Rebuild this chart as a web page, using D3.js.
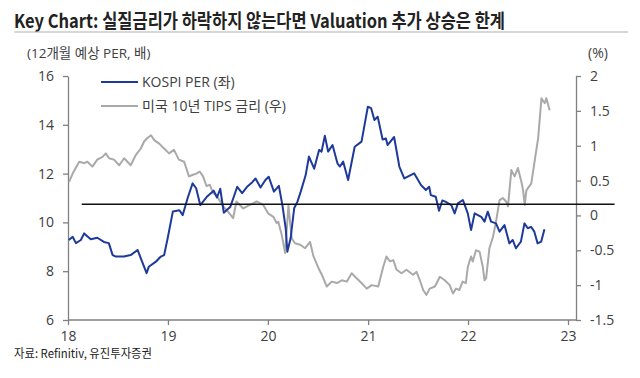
<!DOCTYPE html>
<html><head><meta charset="utf-8">
<script src="https://cdn.jsdelivr.net/npm/d3@7"></script>
<style>
html,body{margin:0;padding:0;background:#fff;}
svg{display:block;font-family:"Open Sans","Noto Sans CJK KR",sans-serif;}
</style></head>
<body><svg id="c" width="640" height="378"></svg>
<script>
// ---- data ----
const titleText = "Key Chart: 실질금리가 하락하지 않는다면 Valuation 추가 상승은 한계";
const leftUnit = "(12개월 예상 PER, 배)";
const rightUnit = "(%)";
const sourceText = "자료: Refinitiv, 유진투자증권";
const seriesNames = ["KOSPI PER (좌)", "미국 10년 TIPS 금리 (우)"];
const yearTicks = ["2018-01-01","2019-01-01","2020-01-01","2021-01-01","2022-01-01","2023-01-01"];
const leftTicks = [6,8,10,12,14,16];
const rightTicks = [-1.5,-1,-0.5,0,0.5,1,1.5,2];
const avgPER = 10.74;
const avgSpan = ["2018-02-20","2023-06-20"];

const kospiPER = [
["2018-01-04",9.28],["2018-01-18",9.41],["2018-01-30",9.15],["2018-02-17",9.28],["2018-03-01",9.55],
["2018-03-25",9.31],["2018-04-18",9.37],["2018-05-12",9.2],["2018-05-30",9.15],["2018-06-13",8.66],
["2018-06-25",8.6],["2018-07-24",8.6],["2018-08-18",8.66],["2018-09-12",8.87],["2018-09-24",8.53],
["2018-10-15",7.92],["2018-10-23",8.18],["2018-11-18",8.39],["2018-12-06",8.6],["2018-12-18",8.66],
["2018-12-31",9.35],["2019-01-19",10.45],["2019-02-12",10.5],["2019-02-24",10.3],["2019-03-14",11.0],
["2019-04-01",11.6],["2019-04-14",11.4],["2019-04-29",10.71],["2019-05-23",11.05],["2019-06-17",11.3],
["2019-06-29",11.02],["2019-07-11",11.38],["2019-07-24",10.4],["2019-08-17",10.64],["2019-09-11",11.46],
["2019-09-29",11.2],["2019-10-17",11.46],["2019-11-05",11.65],["2019-11-17",11.8],["2019-12-05",11.43],
["2019-12-23",11.74],["2020-01-04",11.87],["2020-01-23",11.26],["2020-02-10",11.5],["2020-02-23",10.71],
["2020-03-06",9.76],["2020-03-12",8.8],["2020-03-24",9.35],["2020-04-06",10.58],["2020-04-18",10.85],
["2020-04-30",11.26],["2020-05-18",11.94],["2020-05-30",12.7],["2020-06-18",12.2],["2020-07-06",12.97],
["2020-07-15",12.9],["2020-07-27",13.55],["2020-08-08",12.9],["2020-08-24",13.17],["2020-09-11",12.42],
["2020-09-20",12.29],["2020-10-02",12.49],["2020-10-20",11.74],["2020-11-13",13.1],["2020-12-08",13.31],
["2020-12-20",14.06],["2020-12-31",14.74],["2021-01-12",14.68],["2021-01-24",14.2],["2021-02-05",14.33],
["2021-02-23",13.4],["2021-03-07",13.44],["2021-03-13",13.17],["2021-04-06",13.5],["2021-04-25",12.29],
["2021-05-13",11.8],["2021-06-18",12.01],["2021-07-13",11.53],["2021-07-31",11.33],["2021-08-12",11.46],
["2021-08-18",11.12],["2021-09-05",11.05],["2021-09-17",10.48],["2021-09-29",10.9],["2021-10-10",10.85],
["2021-11-01",10.71],["2021-11-13",10.37],["2021-11-25",10.78],["2021-12-13",10.92],["2021-12-31",10.37],
["2022-01-12",9.69],["2022-01-25",10.37],["2022-02-18",10.23],["2022-03-02",10.03],["2022-03-14",10.44],
["2022-03-26",10.03],["2022-04-13",9.96],["2022-04-26",9.62],["2022-05-14",9.89],["2022-06-01",9.14],
["2022-06-13",9.28],["2022-06-25",8.94],["2022-07-13",9.21],["2022-07-26",9.96],["2022-08-07",9.76],
["2022-08-19",9.82],["2022-08-31",9.62],["2022-09-12",9.14],["2022-09-25",9.21],["2022-10-07",9.72]
];

const tipsYield = [
["2018-01-05",0.48],["2018-01-18",0.60],["2018-02-11",0.77],["2018-03-01",0.75],["2018-03-13",0.77],
["2018-03-31",0.70],["2018-04-18",0.80],["2018-05-07",0.84],["2018-05-19",0.89],["2018-05-31",0.82],
["2018-06-18",0.80],["2018-07-07",0.72],["2018-07-25",0.82],["2018-08-18",0.72],["2018-09-06",0.87],
["2018-09-24",0.96],["2018-10-06",1.06],["2018-10-18",1.11],["2018-10-31",1.15],["2018-11-12",1.08],
["2018-11-30",1.03],["2018-12-18",0.96],["2019-01-05",0.89],["2019-01-23",0.94],["2019-02-10",0.80],
["2019-03-01",0.77],["2019-03-19",0.56],["2019-03-31",0.58],["2019-04-15",0.60],["2019-04-27",0.63],
["2019-05-09",0.56],["2019-05-22",0.42],["2019-06-03",0.44],["2019-06-15",0.32],["2019-06-27",0.29],
["2019-07-22",0.13],["2019-08-09",0.05],["2019-08-27",-0.04],["2019-09-08",0.20],["2019-10-03",0.10],
["2019-10-27",0.15],["2019-11-21",0.20],["2019-12-15",0.15],["2020-01-02",0.03],["2020-01-21",-0.02],
["2020-02-02",-0.11],["2020-02-08",-0.09],["2020-02-20",-0.27],["2020-03-04",-0.54],["2020-03-16",0.14],
["2020-03-28",-0.33],["2020-04-09",-0.40],["2020-04-28",-0.42],["2020-05-16",-0.47],["2020-06-03",-0.38],
["2020-06-15",-0.58],["2020-07-03",-0.75],["2020-07-16",-0.85],["2020-08-03",-1.02],["2020-08-21",-0.95],
["2020-09-09",-0.97],["2020-09-27",-0.93],["2020-10-15",-0.95],["2020-11-02",-0.83],["2020-11-20",-0.90],
["2020-12-08",-0.97],["2020-12-27",-1.05],["2021-01-14",-1.00],["2021-02-07",-1.02],["2021-02-25",-0.74],
["2021-03-09",-0.59],["2021-03-22",-0.66],["2021-04-03",-0.64],["2021-04-15",-0.78],["2021-05-03",-0.83],
["2021-05-21",-0.78],["2021-06-14",-0.85],["2021-06-27",-0.81],["2021-07-09",-0.93],["2021-07-21",-1.07],
["2021-08-02",-1.14],["2021-08-14",-1.05],["2021-09-02",-1.02],["2021-09-20",-0.88],["2021-10-08",-0.93],
["2021-10-26",-1.00],["2021-11-07",-1.12],["2021-11-18",-1.05],["2021-11-30",-1.07],["2021-12-12",-0.95],
["2021-12-24",-0.97],["2021-12-31",-0.74],["2022-01-12",-0.59],["2022-01-18",-0.66],["2022-01-30",-0.50],
["2022-02-12",-0.52],["2022-02-24",-0.74],["2022-03-02",-0.93],["2022-03-08",-0.90],["2022-03-20",-0.47],
["2022-04-02",-0.31],["2022-04-14",-0.07],["2022-04-26",0.22],["2022-05-08",0.25],["2022-05-20",0.20],
["2022-05-27",0.13],["2022-06-08",0.65],["2022-06-20",0.56],["2022-07-02",0.68],["2022-07-15",0.48],
["2022-07-21",0.36],["2022-07-27",0.15],["2022-08-02",0.36],["2022-08-20",0.46],["2022-09-02",0.80],
["2022-09-14",1.11],["2022-09-26",1.68],["2022-10-08",1.61],["2022-10-14",1.68],["2022-10-26",1.51]
];

// ---- chart ----
const parse = d3.timeParse("%Y-%m-%d");
const svg = d3.select("#c");
const axisColor = "#808080", textColor = "#404040";
const blue = "#1d3a9a", gray = "#a9a9a9";

const x = d3.scaleTime().domain([parse(yearTicks[0]), parse(yearTicks[yearTicks.length-1])]).range([68,568]);
const yL = d3.scaleLinear().domain([6,16]).range([320,76]);
const yR = d3.scaleLinear().domain([-1.5,2]).range([320,76]);

// title
svg.append("text").attr("x",14).attr("y",28)
  .attr("font-family","'Noto Sans CJK KR',sans-serif").attr("font-weight","bold")
  .attr("font-size",19).attr("fill","#222")
  .attr("textLength",491).attr("lengthAdjust","spacingAndGlyphs").text(titleText);
svg.append("line").attr("x1",14).attr("x2",628).attr("y1",32).attr("y2",32)
  .attr("stroke","#b0b0b0").attr("stroke-width",1.2);

// unit labels
svg.append("text").attr("x",27).attr("y",58).attr("font-size",13.5).attr("fill",textColor).text(leftUnit);
svg.append("text").attr("x",588).attr("y",58).attr("font-size",14).attr("fill",textColor).text(rightUnit);

function styleAxis(g){
  g.selectAll("path,line").attr("stroke",axisColor).attr("stroke-width",1.3);
  g.selectAll("text").attr("fill",textColor).attr("font-size",14)
   .attr("font-family","'Open Sans',sans-serif");
}

// bottom axis
const gx = svg.append("g").attr("transform","translate(0,320)")
  .call(d3.axisBottom(x).tickValues(yearTicks.map(parse)).tickFormat(d3.timeFormat("%y")).tickSize(5).tickPadding(6).tickSizeOuter(0));
gx.select(".domain").remove();
styleAxis(gx);
svg.append("line").attr("x1",68).attr("x2",576).attr("y1",320).attr("y2",320).attr("stroke",axisColor).attr("stroke-width",1.3);

// left axis
const gl = svg.append("g").attr("transform","translate(68,0)")
  .call(d3.axisLeft(yL).tickValues(leftTicks).tickFormat(d=>String(d)).tickSize(5).tickPadding(9).tickSizeOuter(0));
styleAxis(gl);

// right axis
const gr = svg.append("g").attr("transform","translate(576,0)")
  .call(d3.axisRight(yR).tickValues(rightTicks).tickFormat(d=>String(d)).tickSize(5).tickPadding(9).tickSizeOuter(0));
styleAxis(gr);

// lines
const lineR = d3.line().x(d=>x(parse(d[0]))).y(d=>yR(d[1]));
const lineL = d3.line().x(d=>x(parse(d[0]))).y(d=>yL(d[1]));
svg.append("path").datum(tipsYield).attr("d",lineR).attr("fill","none")
  .attr("stroke",gray).attr("stroke-width",2).attr("stroke-linejoin","round");
svg.append("path").datum(kospiPER).attr("d",lineL).attr("fill","none")
  .attr("stroke",blue).attr("stroke-width",2).attr("stroke-linejoin","round");

// average line
svg.append("line")
  .attr("x1",x(parse(avgSpan[0]))).attr("x2",x(parse(avgSpan[1])))
  .attr("y1",yL(avgPER)).attr("y2",yL(avgPER))
  .attr("stroke","#111").attr("stroke-width",1.5);

// legend
const leg = [{name:seriesNames[0],color:blue,y:82},{name:seriesNames[1],color:gray,y:106}];
leg.forEach(l=>{
  svg.append("line").attr("x1",101).attr("x2",138).attr("y1",l.y).attr("y2",l.y)
    .attr("stroke",l.color).attr("stroke-width",2.2);
  svg.append("text").attr("x",142).attr("y",l.y+5).attr("font-size",14).attr("fill",textColor).text(l.name);
});

// source
svg.append("text").attr("x",14).attr("y",358).attr("font-size",12)
  .attr("font-family","'Noto Sans CJK KR',sans-serif").attr("fill","#222")
  .attr("textLength",138).attr("lengthAdjust","spacingAndGlyphs").text(sourceText);
</script>
</body></html>
